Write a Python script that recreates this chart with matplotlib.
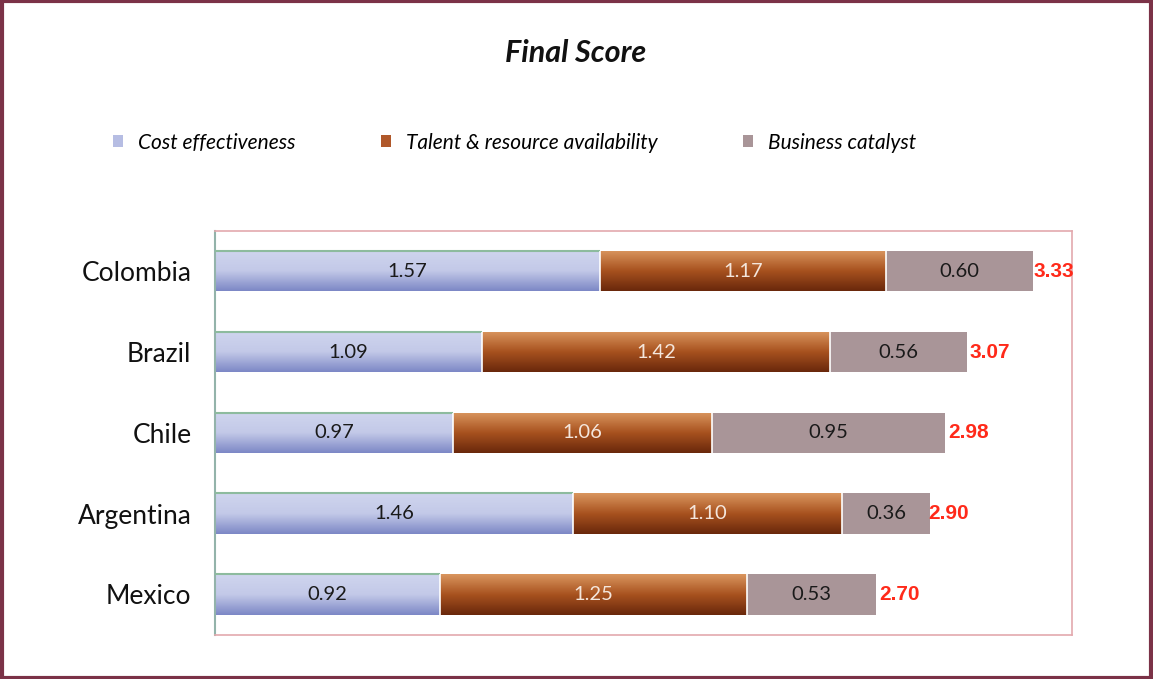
import numpy as np
import matplotlib
matplotlib.use("Agg")
import matplotlib.pyplot as plt
from matplotlib.patches import Rectangle, Patch
from matplotlib.colors import LinearSegmentedColormap

# data
countries = ['Colombia', 'Brazil', 'Chile', 'Argentina', 'Mexico']
cost = np.array([1.57, 1.09, 0.97, 1.46, 0.92])
talent = np.array([1.17, 1.42, 1.06, 1.10, 1.25])
catalyst = np.array([0.60, 0.56, 0.95, 0.36, 0.53])
totals = np.array([3.33, 3.07, 2.98, 2.90, 2.70])
series_names = ['Cost effectiveness', 'Talent & resource availability', 'Business catalyst']

plt.rcParams['font.family'] = ['Lato', 'DejaVu Sans']

fig = plt.figure(figsize=(11.53, 6.79), dpi=100)
ax = fig.add_axes([0.1865, 0.065, 0.7435, 0.595])

y = np.arange(len(countries))
h = 0.5

blue_cmap = LinearSegmentedColormap.from_list('b', ['#cfd5ee', '#c3c9e8', '#7d88c6'])
brown_cmap = LinearSegmentedColormap.from_list('o', ['#d9955e', '#a8521f', '#6a280b'])
grad = np.linspace(0, 1, 64).reshape(-1, 1)


def gradient_bars(bars, cmap):
    for b in bars:
        x0, y0 = b.get_x(), b.get_y()
        w, hh = b.get_width(), b.get_height()
        im = ax.imshow(grad, cmap=cmap, aspect='auto', extent=[x0, x0 + w, y0 + hh, y0],
                       origin='upper', zorder=2)
        im.set_clip_path(b)


b1 = ax.barh(y, cost, height=h, color='none', edgecolor='none', zorder=1)
gradient_bars(b1, blue_cmap)
b2 = ax.barh(y, talent, left=cost, height=h, color='none', edgecolor='none', zorder=1)
gradient_bars(b2, brown_cmap)
b3 = ax.barh(y, catalyst, left=cost + talent, height=h, color='#a99598', edgecolor='none', zorder=2)

# thin green edge along the top of the blue bars
ax.hlines(y - h / 2, 0, cost, color='#8dbb9e', lw=1.5, zorder=3)

# white separators between segments
for left in (cost, cost + talent):
    ax.vlines(left, y - h / 2, y + h / 2, color='white', lw=1.2, zorder=3)

for i in range(len(countries)):
    ax.text(cost[i] / 2, y[i], f'{cost[i]:.2f}', ha='center', va='center',
            fontsize=14.5, color='#1a1a1a', zorder=4)
    ax.text(cost[i] + talent[i] / 2, y[i], f'{talent[i]:.2f}', ha='center', va='center',
            fontsize=14.5, color='#f4e6dc', zorder=4)
    ax.text(cost[i] + talent[i] + catalyst[i] / 2, y[i], f'{catalyst[i]:.2f}', ha='center',
            va='center', fontsize=14.5, color='#1a1a1a', zorder=4)
    ax.text(totals[i] + 0.012, y[i], f'{totals[i]:.2f}', ha='left', va='center',
            fontsize=15, fontweight='bold', color='#ff2a1a',
            family='Liberation Sans', zorder=4)

ax.set_xlim(0, 3.5)
ax.set_ylim(len(countries) - 0.5, -0.5)
ax.set_yticks(y)
ax.set_yticklabels(countries, fontsize=19, color='#111111')
ax.set_xticks([])
ax.tick_params(axis='y', length=0, pad=17)
for side in ('top', 'right', 'bottom'):
    ax.spines[side].set_color('#e3a9ae')
    ax.spines[side].set_linewidth(1.2)
ax.spines['left'].set_color('#93b3aa')
ax.spines['left'].set_linewidth(1.5)

fig.text(0.499, 0.922, 'Final Score', ha='center', va='center', fontsize=22,
         fontweight='bold', fontstyle='italic', color='#111111')

handles = [Patch(facecolor='#b6bde3'), Patch(facecolor='#b0582a'), Patch(facecolor='#a99598')]
fig.legend(handles, series_names, loc='center', bbox_to_anchor=(0.446, 0.79), ncol=3,
           frameon=False, handlelength=0.5, handleheight=0.5, handletextpad=0.7,
           columnspacing=4.1, prop={'size': 15, 'style': 'italic'})

# dark outer frame
fig.patches.append(Rectangle((0.0015, 0.002), 0.997, 0.996, transform=fig.transFigure,
                             fill=False, edgecolor='#7b3247', linewidth=3))

fig.savefig('out.png', dpi=100)
